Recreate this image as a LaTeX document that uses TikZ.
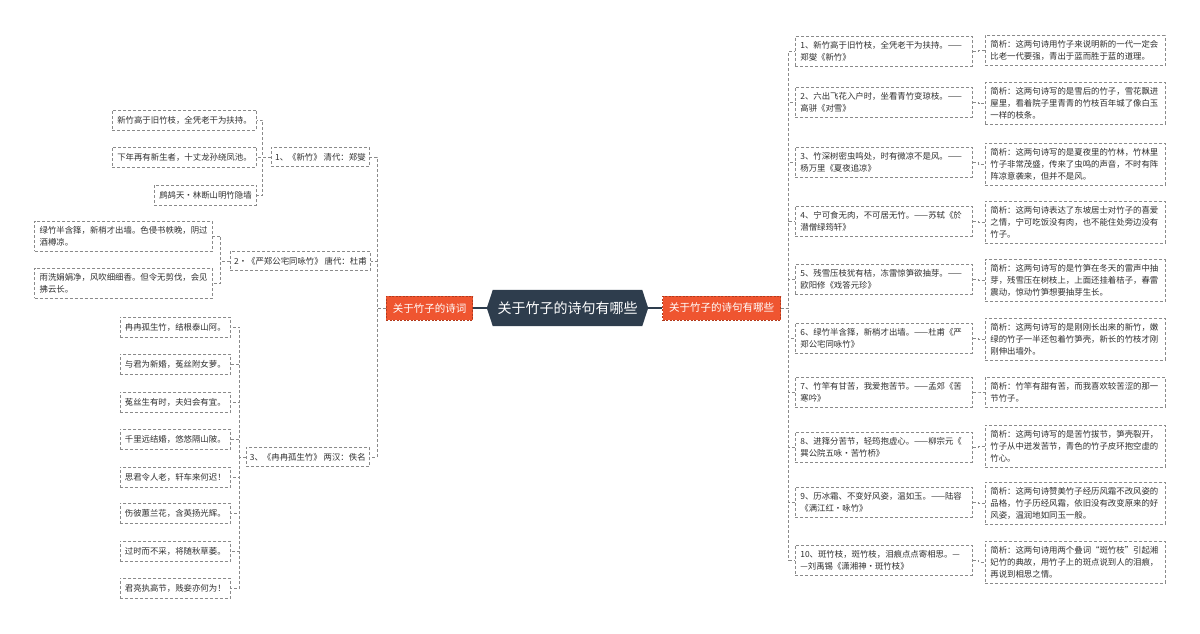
\documentclass[tikz,border=0pt]{standalone}
\usepackage{fontspec}
\setmainfont{Noto Sans CJK SC}
\usetikzlibrary{backgrounds}
\definecolor{cdark}{HTML}{2E3D4D}
\definecolor{corange}{HTML}{EF5530}
\definecolor{corangeb}{HTML}{B23A1C}
\definecolor{bordergray}{HTML}{8A8A8A}
\definecolor{linegray}{HTML}{8A8A8A}
\definecolor{textgray}{HTML}{303030}
\tikzset{
  box/.style={draw=bordergray, dash pattern=on 3pt off 2pt, line width=0.7pt, fill=white, text=textgray,
    font=\fontsize{8.4pt}{12pt}\selectfont, inner xsep=5pt, inner ysep=5pt, align=left},
  rl/.style={box, text width=167pt, minimum height=29pt, anchor=west},
  rr/.style={box, text width=170pt, anchor=west},
  lc/.style={box, inner xsep=5pt, minimum height=20pt, anchor=east},
  lone/.style={box, inner xsep=4pt, minimum height=19pt, anchor=east},
  link/.style={draw=linegray, dash pattern=on 3pt off 2pt, line width=0.7pt},
  orangebox/.style={fill=corange, draw=corangeb, dash pattern=on 2pt off 1.5pt, line width=0.6pt, text=white,
    font=\fontsize{10.5pt}{12pt}\selectfont, inner xsep=6.5pt, minimum height=24pt},
  centre/.style={text=white, font=\fontsize{14pt}{16pt}\selectfont, minimum width=161pt, minimum height=36pt},
  solidlink/.style={draw=cdark, line width=1.2pt}
}
\begin{document}
\begin{tikzpicture}[x=1pt,y=-1pt]
\useasboundingbox (0,0) rectangle (1200,633);
% centre
\node[centre] (c) at (567.5,308) {关于竹子的诗句有哪些};
\begin{scope}[on background layer]
\fill[cdark] (c.west) -- ([xshift=6pt]c.north west) -- ([xshift=-6pt]c.north east) -- (c.east)
  -- ([xshift=-6pt]c.south east) -- ([xshift=6pt]c.south west) -- cycle;
\end{scope}
\node[orangebox] (ol) at (429.5,308) {关于竹子的诗词};
\node[orangebox] (or) at (721.5,308) {关于竹子的诗句有哪些};
\draw[solidlink] (ol.east) -- (c.west);
\draw[solidlink] (c.east) -- (or.west);

% right column
\node[rl] (r1) at (795,51.5) {1、新竹高于旧竹枝，全凭老干为扶持。——\\郑燮《新竹》};
\node[rl] (r2) at (795,102) {2、六出飞花入户时，坐看青竹变琼枝。——\\高骈《对雪》};
\node[rl] (r3) at (795,162) {3、竹深树密虫鸣处，时有微凉不是风。——\\杨万里《夏夜追凉》};
\node[rl] (r4) at (795,221) {4、宁可食无肉，不可居无竹。——苏轼《於\\潜僧绿筠轩》};
\node[rl] (r5) at (795,279.5) {5、残雪压枝犹有桔，冻雷惊笋欲抽芽。——\\欧阳修《戏答元珍》};
\node[rl] (r6) at (795,338) {6、绿竹半含箨，新梢才出墙。——杜甫《严\\郑公宅同咏竹》};
\node[rl] (r7) at (795,392) {7、竹竿有甘苦，我爱抱苦节。——孟郊《苦\\寒吟》};
\node[rl] (r8) at (795,447) {8、进箨分苦节，轻筠抱虚心。——柳宗元《\\巽公院五咏·苦竹桥》};
\node[rl] (r9) at (795,502) {9、历冰霜、不变好风姿，温如玉。——陆容\\《满江红·咏竹》};
\node[rl] (r10) at (795,560) {10、斑竹枝，斑竹枝，泪痕点点寄相思。—\\—刘禹锡《潇湘神·斑竹枝》};

\node[rr] (s1) at (985,50.5) {简析：这两句诗用竹子来说明新的一代一定会\\比老一代要强，青出于蓝而胜于蓝的道理。};
\node[rr] (s2) at (985,103.5) {简析：这两句诗写的是雪后的竹子，雪花飘进\\屋里，看着院子里青青的竹枝百年城了像白玉\\一样的枝条。};
\node[rr] (s3) at (985,164) {简析：这两句诗写的是夏夜里的竹林，竹林里\\竹子非常茂盛，传来了虫鸣的声音，不时有阵\\阵凉意袭来，但并不是风。};
\node[rr] (s4) at (985,222) {简析：这两句诗表达了东坡居士对竹子的喜爱\\之情，宁可吃饭没有肉，也不能住处旁边没有\\竹子。};
\node[rr] (s5) at (985,280.5) {简析：这两句诗写的是竹笋在冬天的雷声中抽\\芽，残雪压在树枝上，上面还挂着桔子，春雷\\震动，惊动竹笋想要抽芽生长。};
\node[rr] (s6) at (985,339) {简析：这两句诗写的是刚刚长出来的新竹，嫩\\绿的竹子一半还包着竹笋壳，新长的竹枝才刚\\刚伸出墙外。};
\node[rr] (s7) at (985,392) {简析：竹竿有甜有苦，而我喜欢较苦涩的那一\\节竹子。};
\node[rr] (s8) at (985,446) {简析：这两句诗写的是苦竹拔节，笋壳裂开，\\竹子从中迸发苦节，青色的竹子皮环抱空虚的\\竹心。};
\node[rr] (s9) at (985,503) {简析：这两句诗赞美竹子经历风霜不改风姿的\\品格，竹子历经风霜，依旧没有改变原来的好\\风姿，温润地如同玉一般。};
\node[rr] (s10) at (985,562) {简析：这两句诗用两个叠词“斑竹枝”引起湘\\妃竹的典故，用竹子上的斑点说到人的泪痕，\\再说到相思之情。};

\foreach \i in {1,...,10} {
  \draw[link] (or.east) -- ++(8,0) |- (r\i.west);
  \draw[link] (r\i.east) -- ++(6,0) |- (s\i.west);
}

% left column
\node[lone] (l1) at (370,157) {1、《新竹》 清代：郑燮};
\node[lone] (l2) at (371,261) {2·《严郑公宅同咏竹》 唐代：杜甫};
\node[lone] (l3) at (370,457) {3、《冉冉孤生竹》 两汉：佚名};

\node[lc] (l1a) at (257,120) {新竹高于旧竹枝，全凭老干为扶持。};
\node[lc] (l1b) at (257,157) {下年再有新生者，十丈龙孙绕凤池。};
\node[lc] (l1c) at (257,195) {鹧鸪天·林断山明竹隐墙};

\node[lc] (l2a) at (213,236) {绿竹半含箨，新梢才出墙。色侵书帙晚，阴过\\酒樽凉。};
\node[lc] (l2b) at (213,283) {雨洗娟娟净，风吹细细香。但令无剪伐，会见\\拂云长。};

\node[lc] (l3a) at (231,327) {冉冉孤生竹，结根泰山阿。};
\node[lc] (l3b) at (231,364) {与君为新婚，菟丝附女萝。};
\node[lc] (l3c) at (231,402) {菟丝生有时，夫妇会有宜。};
\node[lc] (l3d) at (231,439) {千里远结婚，悠悠隔山陂。};
\node[lc] (l3e) at (231,477) {思君令人老，轩车来何迟！};
\node[lc] (l3f) at (231,513) {伤彼蕙兰花，含英扬光辉。};
\node[lc] (l3g) at (231,551) {过时而不采，将随秋草萎。};
\node[lc] (l3h) at (231,588) {君亮执高节，贱妾亦何为！};

\foreach \n in {l1,l2,l3} {
  \draw[link] (ol.west) -- ++(-9,0) |- (\n.east);
}
\foreach \n in {l1a,l1b,l1c} {
  \draw[link] (l1.west) -- ++(-8,0) |- (\n.east);
}
\foreach \n in {l2a,l2b} {
  \draw[link] (l2.west) -- ++(-9,0) |- (\n.east);
}
\foreach \n in {l3a,l3b,l3c,l3d,l3e,l3f,l3g,l3h} {
  \draw[link] (l3.west) -- ++(-6,0) |- (\n.east);
}
\end{tikzpicture}
\end{document}
